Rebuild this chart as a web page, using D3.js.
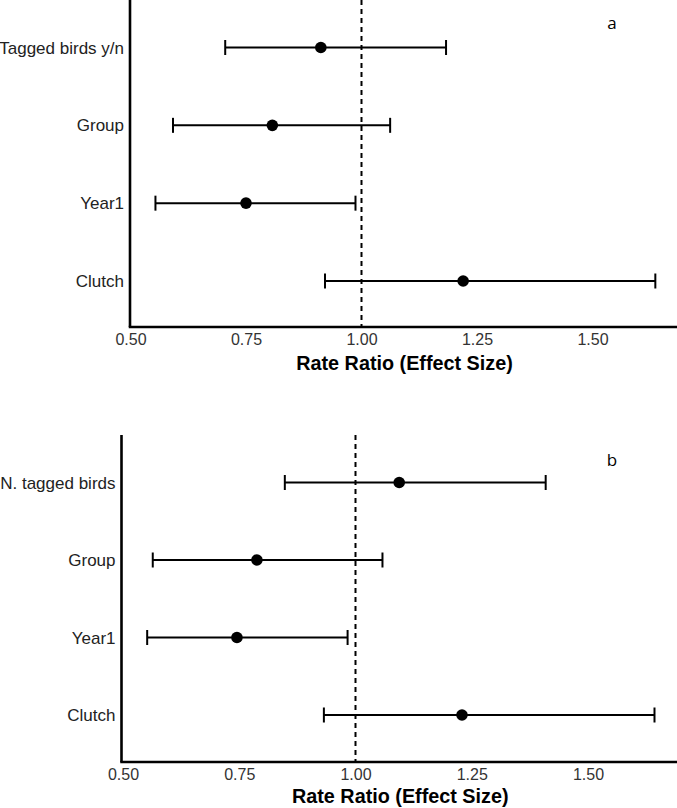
<!DOCTYPE html>
<html>
<head>
<meta charset="utf-8">
<script src="https://cdn.jsdelivr.net/npm/d3@7"></script>
<style>
  html, body { margin: 0; padding: 0; background: #fff; }
  svg { display: block; }
</style>
</head>
<body>
<svg id="chart" width="677" height="808"></svg>
<script>
// ---- Data ----
const categoriesA = ["Tagged birds y/n", "Group", "Year1", "Clutch"];
const estimateA = [0.912, 0.807, 0.750, 1.220];
const lowerA    = [0.705, 0.592, 0.554, 0.921];
const upperA    = [1.183, 1.062, 0.987, 1.636];

const categoriesB = ["N. tagged birds", "Group", "Year1", "Clutch"];
const estimateB = [1.094, 0.788, 0.745, 1.229];
const lowerB    = [0.848, 0.564, 0.552, 0.932];
const upperB    = [1.409, 1.058, 0.983, 1.643];

const tickValues = [0.50, 0.75, 1.00, 1.25, 1.50];
const xTitle = "Rate Ratio (Effect Size)";
const panelLabels = ["a", "b"];
const refValue = 1.0;

// ---- Drawing ----
const svg = d3.select("#chart");
const FONT = "Liberation Sans, Arial, Helvetica, sans-serif";

function panel(cfg) {
  const g = svg.append("g");
  const x = d3.scaleLinear().domain([0.5, 1.5]).range([cfg.x05, cfg.x05 + cfg.unit]);
  const y = d3.scalePoint().domain(cfg.cats).range([cfg.rowTop, cfg.rowBottom]);

  // dashed reference line
  g.append("line")
    .attr("x1", x(refValue)).attr("x2", x(refValue))
    .attr("y1", cfg.top).attr("y2", cfg.axisY)
    .attr("stroke", "#000").attr("stroke-width", 2)
    .attr("stroke-dasharray", "5,4");

  const rows = cfg.cats.map((c, i) => ({c, est: cfg.est[i], lo: cfg.lo[i], hi: cfg.hi[i]}));
  const rg = g.selectAll(".row").data(rows).enter().append("g");
  rg.append("line")
    .attr("x1", d => x(d.lo)).attr("x2", d => x(d.hi))
    .attr("y1", d => y(d.c)).attr("y2", d => y(d.c))
    .attr("stroke", "#000").attr("stroke-width", 2);
  rg.append("line")
    .attr("x1", d => x(d.lo)).attr("x2", d => x(d.lo))
    .attr("y1", d => y(d.c) - 7.5).attr("y2", d => y(d.c) + 7.5)
    .attr("stroke", "#000").attr("stroke-width", 2);
  rg.append("line")
    .attr("x1", d => x(d.hi)).attr("x2", d => x(d.hi))
    .attr("y1", d => y(d.c) - 7.5).attr("y2", d => y(d.c) + 7.5)
    .attr("stroke", "#000").attr("stroke-width", 2);
  rg.append("circle")
    .attr("cx", d => x(d.est)).attr("cy", d => y(d.c))
    .attr("r", 5.8).attr("fill", "#000");

  // category labels
  g.selectAll(".cat").data(cfg.cats).enter().append("text")
    .attr("x", cfg.yAxisX - 6).attr("y", d => y(d))
    .attr("dy", "0.36em").attr("text-anchor", "end")
    .attr("font-family", FONT)
    .attr("font-size", 17).attr("fill", "#222")
    .text(d => d);

  // x axis (ticks labels only; no tick marks)
  const ax = g.append("g").attr("transform", `translate(0,${cfg.axisY})`)
    .call(d3.axisBottom(x).tickValues(tickValues).tickSize(0).tickPadding(7)
      .tickFormat(d3.format(".2f")));
  ax.select(".domain").remove();
  ax.selectAll("text")
    .attr("font-family", FONT)
    .attr("font-size", 16).attr("fill", "#333");

  // axis lines
  g.append("line")
    .attr("x1", cfg.yAxisX - 1.25).attr("x2", 677)
    .attr("y1", cfg.axisY).attr("y2", cfg.axisY)
    .attr("stroke", "#000").attr("stroke-width", 2.6);
  g.append("line")
    .attr("x1", cfg.yAxisX).attr("x2", cfg.yAxisX)
    .attr("y1", cfg.top).attr("y2", cfg.axisY)
    .attr("stroke", "#000").attr("stroke-width", 2.6);

  // x title, centred over panel
  g.append("text")
    .attr("x", (cfg.yAxisX + 677) / 2 + 1).attr("y", cfg.titleY)
    .attr("text-anchor", "middle")
    .attr("font-family", FONT)
    .attr("font-weight", "bold").attr("font-size", 19.8).attr("fill", "#000")
    .text(xTitle);

  // panel label
  g.append("text")
    .attr("x", 612).attr("y", cfg.labelY)
    .attr("text-anchor", "middle")
    .attr("font-family", "Open Sans, DejaVu Sans, sans-serif")
    .attr("font-size", 17).attr("fill", "#000")
    .text(cfg.label);
}

panel({cats: categoriesA, est: estimateA, lo: lowerA, hi: upperA,
       x05: 130.5, unit: 462, yAxisX: 130, top: 0, axisY: 327, rowTop: 47.5, rowBottom: 281,
       titleY: 370, label: panelLabels[0], labelY: 29});
panel({cats: categoriesB, est: estimateB, lo: lowerB, hi: upperB,
       x05: 123, unit: 465, yAxisX: 121.5, top: 435, axisY: 762, rowTop: 482.5, rowBottom: 715,
       titleY: 803, label: panelLabels[1], labelY: 465.5});
</script>
</body>
</html>
